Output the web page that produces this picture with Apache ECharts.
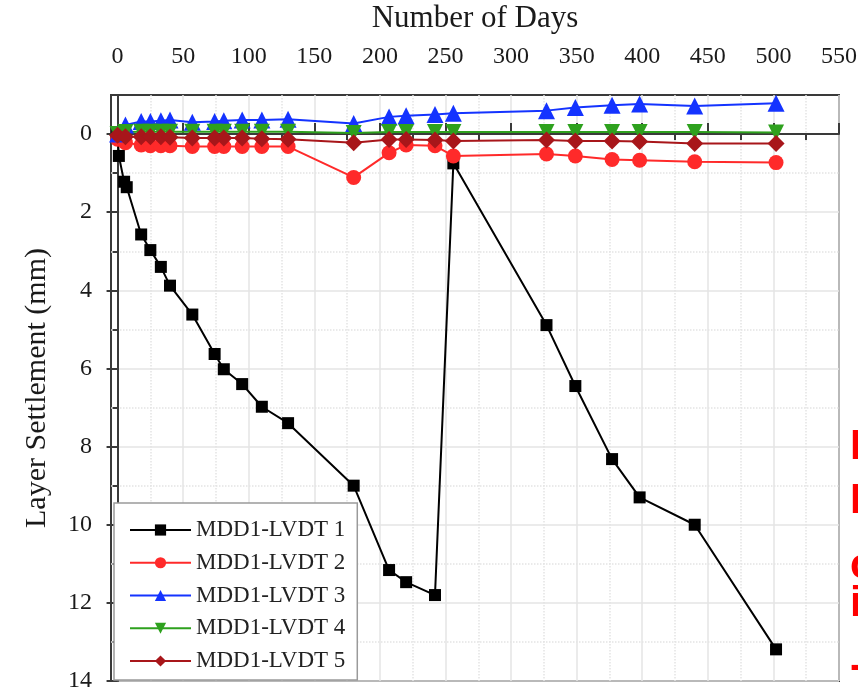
<!DOCTYPE html>
<html>
<head>
<meta charset="utf-8">
<script src="https://cdn.jsdelivr.net/npm/echarts@6/dist/echarts.min.js"></script>
<style>
  html, body { margin: 0; padding: 0; background: #ffffff; }
  #chart { width: 858px; height: 691px; }
</style>
</head>
<body>
<div id="chart"></div>
<script>
// Days of each reading (LVDT 1 was read a little more often at the start)
const daysLvdt1 = [0, 1, 5, 7, 18, 25, 33, 40, 57, 74, 81, 95, 110, 130, 180, 207, 220, 242, 256, 327, 349, 377, 398, 440, 502];
const daysOther = [0, 6, 18, 25, 33, 40, 57, 74, 81, 95, 110, 130, 180, 207, 220, 242, 256, 327, 349, 377, 398, 440, 502];

// Layer settlement in mm (positive = downward)
const lvdt1 = [0, 0.56, 1.22, 1.36, 2.57, 2.97, 3.40, 3.88, 4.62, 5.63, 6.02, 6.40, 6.98, 7.40, 9.00, 11.16, 11.47, 11.80, 0.75, 4.89, 6.45, 8.32, 9.30, 10.00, 13.19];
const lvdt2 = [0.13, 0.22, 0.28, 0.30, 0.30, 0.30, 0.32, 0.32, 0.32, 0.32, 0.32, 0.32, 1.11, 0.48, 0.28, 0.30, 0.56, 0.51, 0.56, 0.65, 0.67, 0.71, 0.73];
const lvdt3 = [0, -0.23, -0.32, -0.32, -0.34, -0.36, -0.30, -0.32, -0.34, -0.36, -0.36, -0.38, -0.27, -0.44, -0.47, -0.50, -0.53, -0.60, -0.68, -0.74, -0.77, -0.72, -0.79];
const lvdt4 = [0, -0.05, -0.06, -0.06, -0.06, -0.06, -0.06, -0.06, -0.06, -0.06, -0.06, -0.06, -0.03, -0.05, -0.05, -0.05, -0.05, -0.05, -0.05, -0.05, -0.05, -0.05, -0.04];
const lvdt5 = [0.03, 0.07, 0.07, 0.07, 0.07, 0.08, 0.10, 0.10, 0.10, 0.10, 0.12, 0.13, 0.22, 0.14, 0.14, 0.15, 0.18, 0.15, 0.18, 0.18, 0.19, 0.24, 0.24];

const seriesNames = ['MDD1-LVDT 1', 'MDD1-LVDT 2', 'MDD1-LVDT 3', 'MDD1-LVDT 4', 'MDD1-LVDT 5'];

// Tick positions
const xMajorTicks = [0, 50, 100, 150, 200, 250, 300, 350, 400, 450, 500, 550];
const xMinorTicks = [25, 75, 125, 175, 225, 275, 325, 375, 425, 475, 525];
const yMajorTicks = [0, 2, 4, 6, 8, 10, 12, 14];
const yMinorTicks = [1, 3, 5, 7, 9, 11, 13];

const sideNote = ['I', 'I', 'c', 'i', '-'];

const pairs = (xs, ys) => xs.map((x, i) => [x, ys[i]]);

const serif = 'Liberation Serif';
const frameColor = '#3a3a3a';
const gridColor = '#e4e4e4';

const chart = echarts.init(document.getElementById('chart'), null, { renderer: 'canvas' });

function makeSeries(name, data, color, symbol, size, rotate) {
  return {
    name: name,
    type: 'line',
    xAxisIndex: 0,
    yAxisIndex: 0,
    data: data,
    symbol: symbol,
    symbolSize: size,
    symbolRotate: rotate || 0,
    showAllSymbol: true,
    lineStyle: { color: color, width: 2 },
    itemStyle: { color: color },
    emphasis: { disabled: true },
    animation: false
  };
}

const noteY = [447, 501, 566, 604, 667];

chart.setOption({
  backgroundColor: '#ffffff',
  animation: false,
  grid: {
    left: 111, top: 95, width: 728, height: 586,
    outerBoundsMode: 'none',
    containLabel: false,
    show: true, borderColor: frameColor, borderWidth: 2, backgroundColor: 'transparent'
  },
  xAxis: [
    {
      type: 'value', position: 'top', min: -5, max: 550,
      name: 'Number of Days', nameLocation: 'middle', nameGap: 61,
      nameTextStyle: { fontFamily: serif, fontSize: 31, color: '#1a1a1a' },
      axisLine: { show: true, lineStyle: { color: frameColor, width: 2 } },
      axisTick: { show: true, customValues: xMajorTicks, length: 11, inside: false, lineStyle: { color: frameColor, width: 2 } },
      axisLabel: { show: true, customValues: xMajorTicks, margin: 26, fontFamily: serif, fontSize: 24, color: '#1a1a1a' },
      splitLine: { show: true, lineStyle: { color: gridColor, width: 1.5, type: 'solid' } }
    },
    {
      type: 'value', position: 'top', min: -5, max: 550,
      axisLine: { show: false },
      axisTick: { show: true, customValues: xMinorTicks, length: 6, inside: true, lineStyle: { color: frameColor, width: 2 } },
      axisLabel: { show: false, customValues: xMinorTicks },
      splitLine: { show: true, lineStyle: { color: gridColor, width: 1.5, type: 'dotted' } }
    }
  ],
  yAxis: [
    {
      type: 'value', position: 'left', inverse: true, min: -1, max: 14,
      name: 'Layer Settlement (mm)', nameLocation: 'middle', nameGap: 59,
      nameTextStyle: { fontFamily: serif, fontSize: 30, color: '#1a1a1a' },
      axisLine: { show: true, lineStyle: { color: frameColor, width: 2 } },
      axisTick: { show: true, customValues: yMajorTicks, length: 11, inside: false, lineStyle: { color: frameColor, width: 2 } },
      axisLabel: { show: true, customValues: yMajorTicks, margin: 19, fontFamily: serif, fontSize: 24, color: '#1a1a1a' },
      splitLine: { show: true, lineStyle: { color: gridColor, width: 1.5, type: 'solid' } }
    },
    {
      type: 'value', position: 'left', inverse: true, min: -1, max: 14,
      axisLine: { show: false },
      axisTick: { show: true, customValues: yMinorTicks, length: 5, inside: false, lineStyle: { color: frameColor, width: 2 } },
      axisLabel: { show: false, customValues: yMinorTicks },
      splitLine: { show: true, lineStyle: { color: gridColor, width: 1.5, type: 'dotted' } }
    }
  ],
  legend: {
    orient: 'vertical',
    left: 114, top: 503,
    padding: [14, 12, 6, 15],
    itemWidth: 61, itemHeight: 14, itemGap: 6.75,
    selectedMode: false,
    backgroundColor: '#ffffff',
    borderColor: '#9a9a9a', borderWidth: 1.5,
    textStyle: { fontFamily: serif, fontSize: 23, color: '#222222', lineHeight: 26, padding: [0, 0, 0, 0] },
    data: seriesNames
  },
  series: [
    makeSeries(seriesNames[0], pairs(daysLvdt1, lvdt1), '#000000', 'rect', 12),
    makeSeries(seriesNames[1], pairs(daysOther, lvdt2), '#ff2a2a', 'circle', 15),
    makeSeries(seriesNames[2], pairs(daysOther, lvdt3), '#1433ff', 'triangle', 17),
    makeSeries(seriesNames[3], pairs(daysOther, lvdt4), '#2ea11e', 'triangle', 16, 180),
    makeSeries(seriesNames[4], pairs(daysOther, lvdt5), '#a8161a', 'diamond', 17)
  ],
  graphic: sideNote.map((t, i) => ({
    type: 'text',
    x: 850, y: noteY[i],
    style: {
      text: t,
      font: 'bold 42px "Liberation Sans"',
      fill: '#ff0000',
      textAlign: 'left',
      textVerticalAlign: 'middle'
    },
    z: 10
  }))
});
</script>
</body>
</html>
